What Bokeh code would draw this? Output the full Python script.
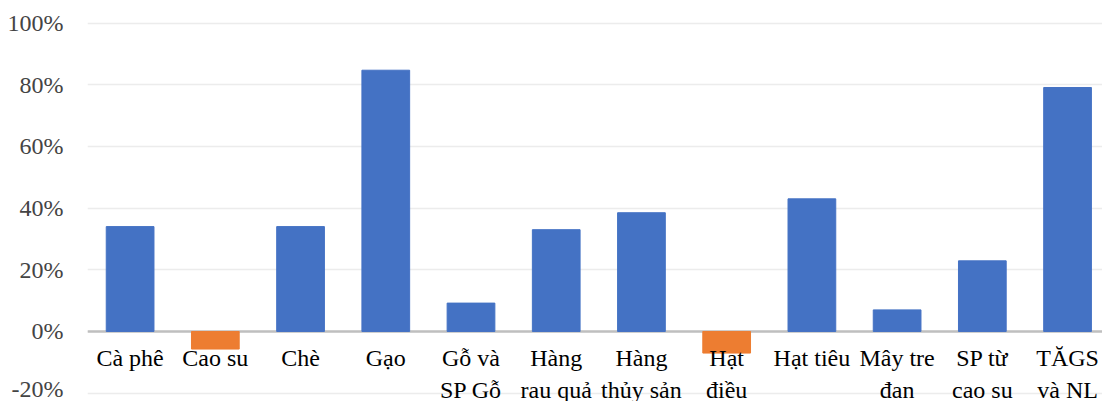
from bokeh.plotting import figure
from bokeh.models import ColumnDataSource, FixedTicker, Grid
from bokeh.embed import file_html
from bokeh.resources import INLINE

# Export growth by product group (%)
categories = ["Cà phê", "Cao su", "Chè", "Gạo", "Gỗ và\nSP Gỗ", "Hàng\nrau quả",
              "Hàng\nthủy sản", "Hạt\nđiều", "Hạt tiêu", "Mây tre\nđan",
              "SP từ\ncao su", "TĂGS\nvà NL"]
growth = [34.0, -5.7, 34.0, 84.7, 9.2, 33.0, 38.5, -7.0, 43.0, 7.0, 22.9, 79.1]
y_ticks = [-20, 0, 20, 40, 60, 80, 100]
y_tick_labels = {t: f"{t}%" for t in y_ticks}

BLUE = "#4472C4"
ORANGE = "#ED7D31"
SERIF_FACES = ["Liberation Serif", "Times New Roman"]

xs = list(range(len(categories)))
src = ColumnDataSource(dict(
    x=xs,
    top=growth,
    color=[BLUE if v >= 0 else ORANGE for v in growth],
    label=categories,
    font=[SERIF_FACES[i % 2] for i in xs],
))

p = figure(width=1102, height=401, output_backend="svg", toolbar_location=None,
           x_range=(-0.5, 11.41), y_range=(-22.7, 107.3),
           min_border_left=87, min_border_right=0, min_border_top=0,
           min_border_bottom=0)
p.outline_line_color = None
p.xaxis.visible = False
p.xgrid.grid_line_alpha = 0
p.ygrid.grid_line_color = "#ececec"
p.ygrid.grid_line_width = 1.5

yax = p.yaxis[0]
yax.ticker = FixedTicker(ticks=y_ticks)
yax.major_label_overrides = y_tick_labels
yax.major_label_text_font = "serif"
yax.major_label_text_font_size = "24px"
yax.axis_line_alpha = 0
yax.major_tick_out = 0
yax.major_tick_in = 0
yax.minor_tick_out = 0
yax.minor_tick_in = 0
yax.major_label_standoff = 24

p.vbar(x="x", top="top", bottom=0, width=0.56, source=src,
       fill_color="color", line_color="color")

# zero baseline drawn as a heavier grid line
p.add_layout(Grid(dimension=1, ticker=FixedTicker(ticks=[0]),
                  grid_line_color="#bfbfbf", grid_line_width=2.5))

p.text(x="x", y=0, text="label", source=src, text_align="center",
       text_baseline="top", y_offset=14, text_font="font",
       text_font_size="24px", text_color="#000000")

open("out.html", "w").write(file_html(p, INLINE))
